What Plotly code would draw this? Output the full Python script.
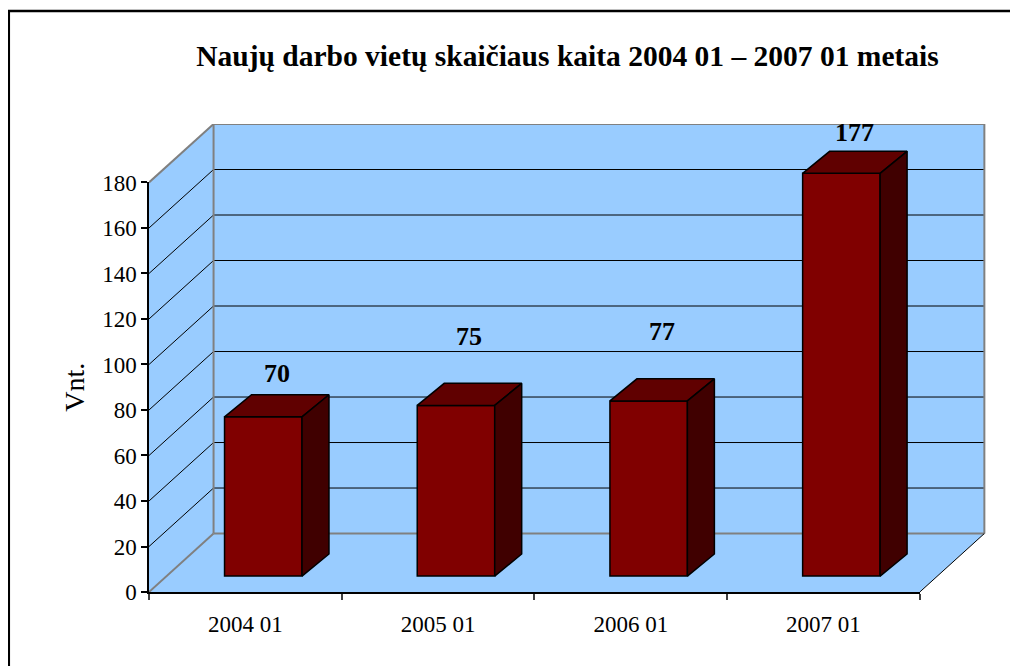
import plotly.graph_objects as go

# ---- data ----
categories = ["2004 01", "2005 01", "2006 01", "2007 01"]
values = [70, 75, 77, 177]
y_ticks = [0, 20, 40, 60, 80, 100, 120, 140, 160, 180]
title_text = "Naujų darbo vietų skaičiaus kaita 2004 01 – 2007 01 metais"
y_title = "Vnt."

# ---- geometry / style (not data) ----
PAGE_OFF = 8                      # browser body margin
W, H = 1018 - PAGE_OFF, 666 - PAGE_OFF
ML, MT = 149 - PAGE_OFF, 124 - PAGE_OFF
MR = W - (986 - PAGE_OFF)
MB = H - (592 - PAGE_OFF)
Y_MAX = 180
X_MIN, X_MAX = -0.5, len(categories) - 0.5
X2_MAX = 3.8435
Y2_MAX = 205.7
DX, DY = 0.335, 25.7            # wall depth in data units
BAR_W = 0.402
BAR_OX, BAR_OY = 0.093, 7.0     # bar front face offset into depth
BAR_DX, BAR_DY = 0.140, 9.7     # bar depth
label_lift = [14, 25.5, 25.5, 13]

WALL = "#99CCFF"
EDGE = "#808080"
FRONT = "#800000"
TOP = "#600000"
SIDE = "#400000"
FONT = "Liberation Serif"

fig = go.Figure()

def path(xs, ys):
    pts = [f"{x},{y}" for x, y in zip(xs, ys)]
    return "M " + " L ".join(pts) + " Z"

def wall(xs, ys):
    fig.add_shape(type="path", path=path(xs, ys), xref="x2", yref="y2",
                  fillcolor=WALL, line=dict(width=0), layer="below")

def seg(xa, ya, xb, yb, color, width):
    fig.add_shape(type="line", x0=xa, y0=ya, x1=xb, y1=yb, xref="x2", yref="y2",
                  line=dict(color=color, width=width), layer="below")

x0, x1 = X_MIN, X_MAX
# walls
wall([x0, x1, x1 + DX, x0 + DX], [0, 0, DY, DY])                                # floor
wall([x0, x0, x0 + DX, x0 + DX], [0, Y_MAX, Y_MAX + DY, DY])                    # side wall
wall([x0 + DX, x1 + DX, x1 + DX, x0 + DX], [DY, DY, Y_MAX + DY, Y_MAX + DY])    # back wall

# gridlines
for v in y_ticks[1:-1]:
    seg(x0, v, x0 + DX, v + DY, "#000000", 1)
    seg(x0 + DX, v + DY, x1 + DX, v + DY, "#000000", 1)

# wall edges
seg(x0, Y_MAX, x0 + DX, Y_MAX + DY, EDGE, 2)
seg(x0 + DX, Y_MAX + DY, x1 + DX, Y_MAX + DY, EDGE, 2)
seg(x1 + DX, Y_MAX + DY, x1 + DX, DY, EDGE, 2)
seg(x1 + DX, DY, x0 + DX, DY, EDGE, 2)
seg(x0 + DX, DY, x0 + DX, Y_MAX + DY, EDGE, 2)
seg(x0, 0, x0 + DX, DY, EDGE, 2)
seg(x1, 0, x1 + DX, DY, "#000000", 1)

# bar front faces
fig.add_trace(go.Bar(
    x=[i + BAR_OX for i in range(len(values))], y=values, base=BAR_OY, width=BAR_W,
    marker=dict(color=FRONT, line=dict(color="#000000", width=1.5)),
    xaxis="x2", yaxis="y2", hoverinfo="skip", showlegend=False))

# bar top and side faces
def face(xs, ys, fill):
    fig.add_trace(go.Scatter(
        x=xs + [xs[0]], y=ys + [ys[0]], mode="lines", fill="toself",
        fillcolor=fill, line=dict(color="#000000", width=1.5),
        xaxis="x2", yaxis="y2", hoverinfo="skip", showlegend=False))

for i, v in enumerate(values):
    xl = i - BAR_W / 2 + BAR_OX
    xr = i + BAR_W / 2 + BAR_OX
    top = BAR_OY + v
    face([xl, xr, xr + BAR_DX, xl + BAR_DX], [top, top, top + BAR_DY, top + BAR_DY], TOP)
    face([xr, xr, xr + BAR_DX, xr + BAR_DX], [BAR_OY, top, top + BAR_DY, BAR_OY + BAR_DY], SIDE)

# invisible trace so the tick axes (x, y) are drawn
fig.add_trace(go.Scatter(x=[None], y=[None], xaxis="x", yaxis="y", mode="markers",
                         hoverinfo="skip", showlegend=False))

# value labels
for i, v in enumerate(values):
    fig.add_annotation(
        x=i + BAR_OX + BAR_DX / 2, y=BAR_OY + v + BAR_DY / 2 + label_lift[i],
        xref="x2", yref="y2", text=f"<b>{v}</b>", showarrow=False,
        font=dict(family=FONT, size=26, color="#000000"), xanchor="center", yanchor="middle")

# frame (only top and left visible in the crop)
def px_to_paper_x(px):
    return (px - ML) / (W - ML - MR)

def px_to_paper_y(py):
    return (H - MB - py) / (H - MT - MB)

fig.add_shape(type="rect", xref="paper", yref="paper",
              x0=px_to_paper_x(0.8), x1=px_to_paper_x(1040),
              y0=px_to_paper_y(700), y1=px_to_paper_y(11 - PAGE_OFF),
              line=dict(color="#000000", width=2.5), fillcolor="rgba(0,0,0,0)", layer="above")

fig.update_layout(
    width=W, height=H,
    margin=dict(l=ML, r=MR, t=MT, b=MB, autoexpand=False),
    paper_bgcolor="white", plot_bgcolor="rgba(0,0,0,0)",
    showlegend=False, barmode="overlay",
    title=dict(text=f"<b>{title_text}</b>", x=(567.5 - PAGE_OFF) / W, xref="container", xanchor="center",
               y=1 - (56 - PAGE_OFF) / H, yref="container", yanchor="middle",
               font=dict(family=FONT, size=29.5, color="#000000")),
    font=dict(family=FONT, color="#000000"),
    xaxis=dict(domain=[0, (X_MAX - X_MIN) / (X2_MAX - X_MIN)], range=[X_MIN, X_MAX],
               anchor="y", showgrid=False, zeroline=False,
               showline=True, linecolor="#000000", linewidth=1.5,
               tickmode="array", tickvals=list(range(len(categories))), ticktext=categories,
               ticks="outside", ticklen=11, tickcolor="rgba(0,0,0,0)",
               tickfont=dict(family=FONT, size=23, color="#000000"),
               minor=dict(tickmode="array", tickvals=[k - 0.5 for k in range(len(categories) + 1)],
                          ticks="outside", ticklen=6, tickcolor="#404040", tickwidth=1.5, showgrid=False),
               fixedrange=True),
    yaxis=dict(domain=[0, Y_MAX / Y2_MAX], range=[0, Y_MAX], anchor="x",
               showgrid=False, zeroline=False,
               showline=True, linecolor="#000000", linewidth=1.5,
               tickmode="array", tickvals=y_ticks, ticks="outside", ticklen=6,
               tickcolor="#000000", tickwidth=1.5,
               tickfont=dict(family=FONT, size=23, color="#000000"),
               title=dict(text=y_title, standoff=9, font=dict(family=FONT, size=28, color="#000000")),
               automargin=False, fixedrange=True),
    xaxis2=dict(domain=[0, 1], range=[X_MIN, X2_MAX], anchor="y2", visible=False, fixedrange=True),
    yaxis2=dict(domain=[0, 1], range=[0, Y2_MAX], anchor="x2", visible=False, fixedrange=True),
)

fig.write_html("out.html")
